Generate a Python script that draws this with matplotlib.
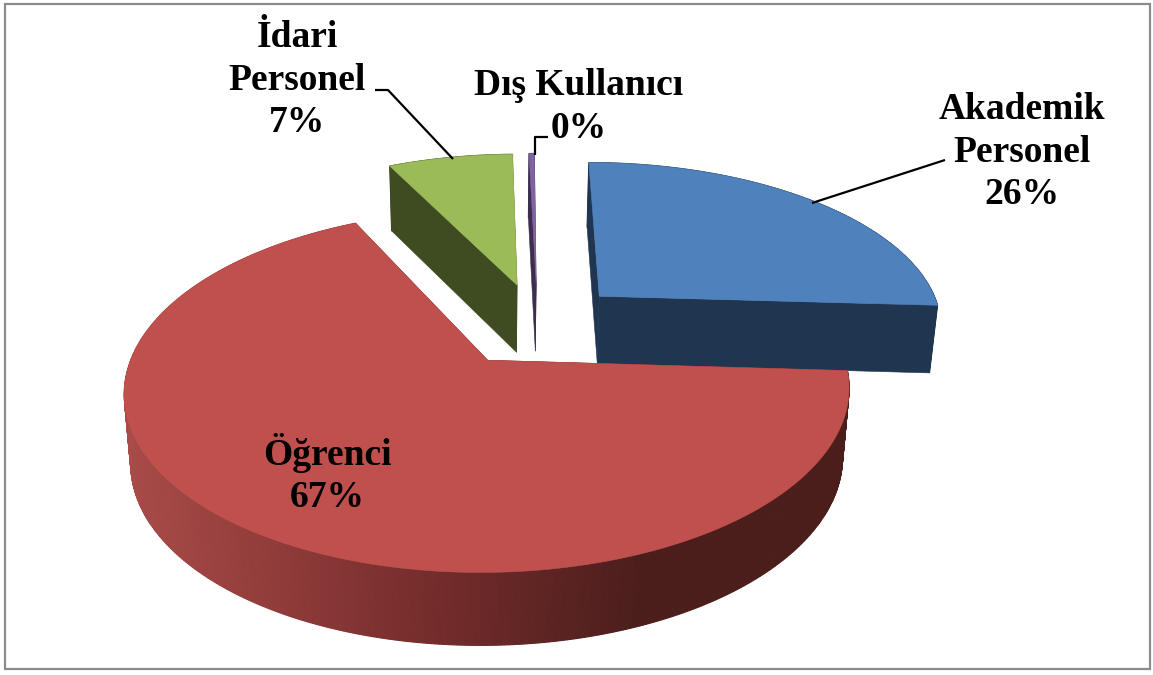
#!/usr/bin/env python3

import numpy as np
import matplotlib
matplotlib.use("Agg")
import matplotlib.pyplot as plt
from matplotlib.colors import to_rgb
from matplotlib.patches import Polygon, Rectangle

names = ["Akademik\nPersonel", "Öğrenci", "İdari\nPersonel", "Dış Kullanıcı"]
values = [26, 67, 7, 0.3]
top_colors = ["#4F81BD", "#C0504D", "#9BBB59", "#8064A2"]
wall_colors = ["#1F3550", "#4B1E1C", "#3F4B21", "#3D2E50"]

label_pos = [(1022, 152), (327, 474), (297, 80), (579, 107)]
leaders = [
  [(945, 160), (812, 203)],
  [(375, 90), (388, 90), (453, 159)],
  [(535, 155), (535, 137), (548, 137)],
]

# projection of the pie plane to image pixels
ax_a, ax_b = 357, 176
persp = 0.17
shear = 0.035
explode = 0.255
depth = 68.7

def project(u, v, bottom=False):
  u, v = np.asarray(u), np.asarray(v)
  w = 1 + persp * (v + 0.211)
  x = 487 + ax_a * (u + 0.143) / w
  y = 360 - ax_b * (v + 0.211) / w
  lean = shear * (360 - y)
  if bottom:
    x = 487 + (x - 487) * 0.982
    y = 360 + (y - 360) * 1.02 + depth
  return x + lean, y

def wall_shade(x):
  stops = [125, 400, 640, 850]
  cols = np.array([to_rgb(c) for c in ["#A94B48", "#7A2F2E", "#4B1E1C", "#4B1E1C"]])
  return [np.interp(x, stops, cols[:, i]) for i in range(3)]

def draw_slice(ax, start, end, top_col, wall_col, curved_shade):
  mid = (start + end) / 2
  du, dv = explode * np.sin(mid), explode * np.cos(mid)
  th = np.linspace(start, end, max(4, int(np.degrees(end - start) * 2)))
  u = np.concatenate([[du], du + np.sin(th)])
  v = np.concatenate([[dv], dv + np.cos(th)])

  tx, ty = project(u, v)
  bx, by = project(u, v, bottom=True)

  # radial cut faces
  for i, j in [(0, 1), (0, len(u) - 1)]:
    quad = [(tx[i], ty[i]), (tx[j], ty[j]), (bx[j], by[j]), (bx[i], by[i])]
    ax.add_patch(Polygon(quad, closed=True, fc=wall_col, ec=wall_col, lw=0.4))

  # outer curved face
  for k in range(1, len(u) - 1):
    quad = [(tx[k], ty[k]), (tx[k + 1], ty[k + 1]), (bx[k + 1], by[k + 1]), (bx[k], by[k])]
    col = wall_shade((tx[k] + tx[k + 1]) / 2) if curved_shade else wall_col
    ax.add_patch(Polygon(quad, closed=True, fc=col, ec=col, lw=0.8))

  ax.add_patch(Polygon(np.column_stack([tx, ty]), closed=True, fc=top_col, ec=top_col, lw=0.4))

def main():
  fig = plt.figure(figsize=(11.53, 6.75), dpi=100)
  ax = fig.add_axes([0, 0, 1, 1])
  ax.set_xlim(0, 1153)
  ax.set_ylim(675, 0)
  ax.axis("off")

  ax.add_patch(Rectangle((4.5, 3.5), 1145, 665, fc="white", ec="#8C8C8C", lw=1.6))

  fracs = np.array(values) / sum(values)
  edges = np.concatenate([[0], np.cumsum(fracs)]) * 2 * np.pi

  # back to front
  for i in [2, 3, 0, 1]:
    draw_slice(ax, edges[i], edges[i + 1], top_colors[i], wall_colors[i], i == 1)

  for pts in leaders:
    xs, ys = zip(*pts)
    ax.plot(xs, ys, color="black", lw=1.6, solid_capstyle="butt")

  for name, val, (x, y) in zip(names, values, label_pos):
    ax.text(x, y, f"{name}\n{round(val)}%", ha="center", va="center", ma="center",
            family=["Liberation Serif", "DejaVu Serif"], fontweight="bold",
            fontsize=27, linespacing=1.27, color="black")

  fig.savefig("out.png", dpi=100)

if __name__ == "__main__":
  main()
